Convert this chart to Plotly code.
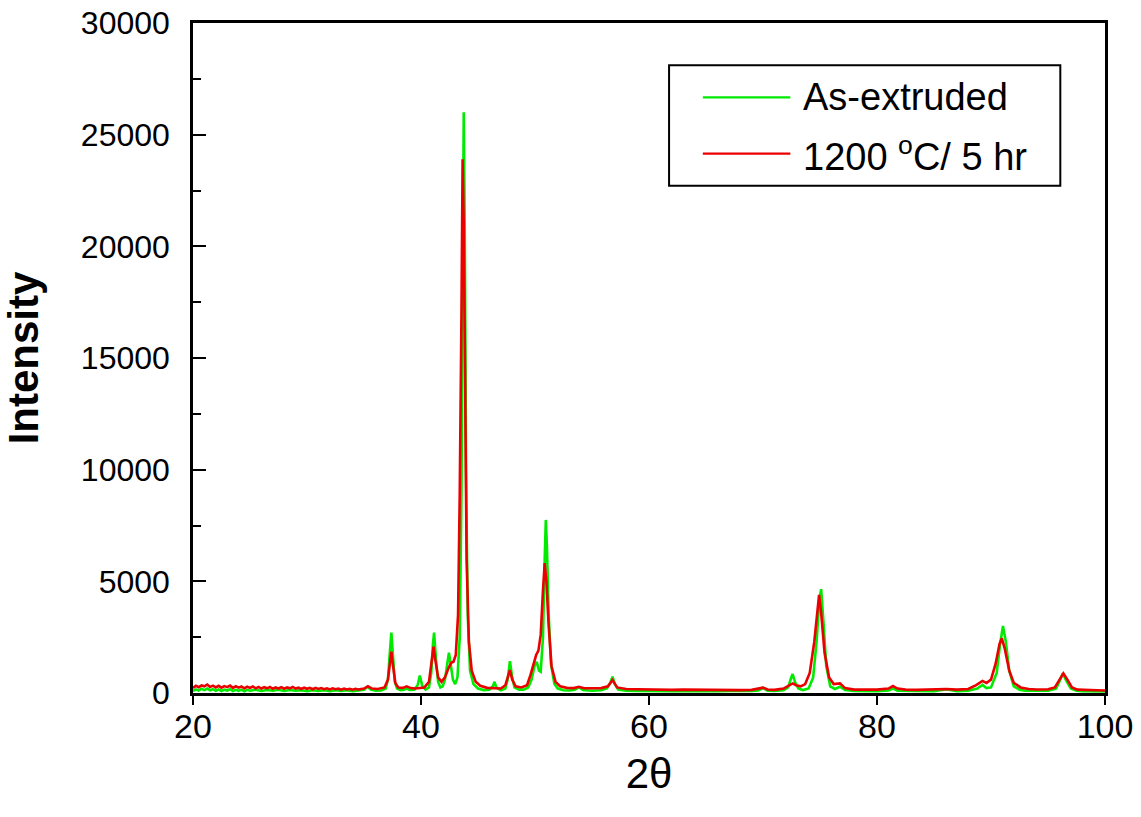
import plotly.graph_objects as go

# ---- data ----
tth_asx = [20.0, 20.25, 20.5, 20.75, 21.0, 21.25, 21.5, 21.75, 22.0, 22.25, 22.5, 22.75, 23.0, 23.25, 23.5, 23.75,
           24.0, 24.25, 24.5, 24.75, 25.0, 25.5, 26.0, 26.5, 27.0, 27.5, 28.0, 28.5, 29.0, 29.5, 30.0, 30.5,
           31.0, 31.5, 32.0, 32.5, 33.0, 33.5, 34.0, 34.5, 35.0, 35.3,
           35.6, 36.0, 36.5, 36.9, 37.1, 37.25, 37.4, 37.55, 37.7, 37.9, 38.2, 38.5, 38.75, 39.0, 39.4, 39.7,
           39.9, 40.1, 40.4, 40.7, 40.9, 41.05, 41.15, 41.3, 41.5, 41.7, 41.9, 42.1, 42.3, 42.45, 42.6, 42.8,
           43.0, 43.2, 43.4, 43.55, 43.65, 43.75, 43.85, 43.95, 44.1, 44.3, 44.6, 45.0, 45.5, 46.0, 46.3, 46.45,
           46.6, 47.0, 47.4, 47.6, 47.8, 48.0, 48.2, 48.6, 49.0, 49.4, 49.7, 49.95, 50.15, 50.35, 50.5, 50.7,
           50.85, 50.95, 51.05, 51.2, 51.4, 51.7, 52.0, 52.5, 53.0, 53.5, 53.85, 54.2, 55.0, 55.8, 56.3, 56.6,
           56.8, 57.0, 57.3, 58.0, 59.0, 60.0, 61.0, 62.0, 63.0, 64.0, 65.0, 66.0, 67.0, 68.0, 69.0, 69.6,
           70.0, 70.4, 71.0, 71.8, 72.2, 72.45, 72.6, 72.8, 73.1, 73.5, 74.0, 74.4, 74.7, 74.95, 75.1, 75.3,
           75.55, 75.9, 76.3, 76.75, 77.2, 78.0, 79.0, 80.0, 81.0, 81.4, 81.8, 83.0, 84.0, 85.0, 86.1, 87.0,
           88.0, 88.8, 89.25, 89.6, 90.0, 90.5, 90.8, 91.05, 91.3, 91.6, 92.0, 92.5, 93.0, 94.0, 95.0, 95.7,
           96.0, 96.3, 96.6, 97.0, 97.5, 98.0, 99.0, 100.0]
int_asx = [90, 160, 110, 190, 130, 200, 120, 170, 100, 160, 90, 150, 110, 170, 90, 140,
           100, 150, 80, 140, 100, 150, 90, 140, 100, 150, 90, 140, 100, 130, 80, 130,
           90, 120, 80, 120, 90, 120, 80, 110, 150, 280,
           150, 100, 110, 200, 600, 1700, 2700, 1600, 500, 200, 130, 150, 200, 140, 150, 350,
           780, 330, 150, 250, 900, 2200, 2700, 1600, 500, 250, 300, 600, 1300, 1800, 1300, 600,
           400, 700, 2500, 9000, 18000, 26000, 20000, 10000, 3500, 1000, 400, 200, 130, 150, 300, 500,
           250, 120, 200, 600, 1430, 700, 250, 150, 150, 250, 600, 1200, 1400, 1000, 950, 2500,
           6000, 7750, 6500, 3500, 1300, 400, 200, 120, 110, 150, 260, 130, 100, 120, 200, 450,
           730, 400, 150, 100, 90, 80, 100, 80, 90, 80, 90, 80, 90, 80, 90, 110,
           230, 100, 90, 120, 250, 650, 850, 500, 200, 130, 200, 700, 2300, 4200, 4650, 3200,
           1200, 300, 180, 280, 130, 90, 80, 80, 110, 200, 100, 80, 90, 80, 170, 80,
           100, 200, 360, 220, 250, 900, 2200, 3000, 2300, 1000, 300, 150, 100, 90, 100, 200,
           500, 880, 550, 200, 100, 80, 80, 70]

tth_ann = [20.0, 20.25, 20.5, 20.75, 21.0, 21.25, 21.5, 21.75, 22.0, 22.25,
           22.5, 22.75, 23.0, 23.25, 23.5, 23.75, 24.0, 24.25, 24.5, 24.75,
           25.0, 25.25, 25.5, 25.75, 26.0, 26.25, 26.5, 26.75, 27.0, 27.25,
           27.5, 27.75, 28.0, 28.25, 28.5, 28.75, 29.0, 29.25, 29.5, 29.75,
           30.0, 30.25, 30.5, 30.75, 31.0, 31.25, 31.5, 31.75, 32.0, 32.25,
           32.5, 32.75, 33.0, 33.25, 33.5, 33.75, 34.0, 34.25, 34.5, 34.75,
           35.0, 35.35, 35.7, 36.2, 36.8, 37.1, 37.25, 37.4, 37.55, 37.75, 38.0, 38.4, 38.75,
           39.1, 39.5, 39.9, 40.3, 40.7, 40.95, 41.1, 41.25, 41.5, 41.8, 42.1, 42.4, 42.65, 42.85, 43.05, 43.25,
           43.4, 43.55, 43.65, 43.75, 43.85, 44.0, 44.2, 44.45, 44.8, 45.2, 45.8, 46.4, 47.0, 47.4, 47.6, 47.8,
           48.0, 48.3, 48.8, 49.3, 49.6, 49.9, 50.1, 50.3, 50.5, 50.7, 50.85, 51.0, 51.2, 51.45, 51.8, 52.2,
           52.8, 53.4, 53.85, 54.3, 55.0, 55.8, 56.4, 56.8, 57.2, 58.0, 59.0, 60.0, 61.0, 62.0, 63.0, 64.0,
           65.0, 66.0, 67.0, 68.0, 69.0, 69.6, 70.0, 70.4, 71.0, 71.8, 72.3, 72.6, 72.9, 73.3, 73.7, 74.1,
           74.5, 74.8, 74.92, 75.1, 75.4, 75.8, 76.2, 76.75, 77.2, 78.0, 79.0, 80.0, 81.0, 81.4, 81.8, 82.5,
           83.5, 84.5, 85.5, 86.1, 87.0, 88.0, 88.7, 89.25, 89.6, 90.0, 90.4, 90.75, 90.95, 91.2, 91.6, 92.0,
           92.6, 93.3, 94.0, 95.0, 95.6, 96.0, 96.35, 96.7, 97.1, 97.6, 98.5, 99.3, 100.0]
int_ann = [230, 320, 260, 340, 300, 380, 270, 330, 250, 320,
           240, 310, 260, 330, 230, 300, 240, 290, 210, 280,
           230, 290, 210, 270, 200, 260, 210, 270, 190, 250,
           200, 260, 190, 250, 210, 270, 200, 240, 180, 240,
           190, 230, 170, 230, 180, 220, 170, 210, 160, 210,
           170, 200, 150, 200, 160, 190, 150, 190, 160, 190,
           200, 300, 200, 180, 250, 600, 1300, 1850, 1200, 450, 250, 230, 300,
           220, 200, 230, 250, 500, 1400, 2070, 1500, 700, 500, 700, 1100, 1350, 1400, 1700, 3500,
           9000, 17000, 23900, 21000, 13000, 6000, 2300, 1000, 500, 320, 230, 220, 200, 350, 700, 1030,
           600, 300, 250, 350, 800, 1400, 1700, 1900, 2600, 4600, 5820, 5000, 3000, 1200, 500, 300,
           230, 220, 280, 210, 200, 220, 300, 580, 250, 180, 170, 150, 160, 140, 150, 140,
           150, 130, 140, 130, 140, 180, 240, 160, 140, 200, 350, 430, 350, 300, 400, 900,
           2300, 4000, 4390, 3600, 1800, 700, 400, 430, 220, 150, 140, 150, 200, 310, 200, 150,
           140, 150, 160, 180, 150, 180, 350, 540, 450, 600, 1300, 2200, 2450, 2000, 1000, 450,
           250, 180, 160, 170, 250, 600, 880, 600, 250, 150, 120, 120, 110]

x_ticks = [20, 40, 60, 80, 100]
y_ticks = [0, 5000, 10000, 15000, 20000, 25000, 30000]
legend_names = ["As-extruded", "1200 <sup>o</sup>C/ 5 hr"]

assert len(tth_asx) == len(int_asx) and len(tth_ann) == len(int_ann)

FONT = "Arial, Liberation Sans, sans-serif"
GREEN = "rgb(0,235,0)"
RED = "rgb(235,0,0)"

fig = go.Figure()
fig.add_trace(go.Scatter(x=tth_asx, y=int_asx, mode="lines", line=dict(color=GREEN, width=2.6),
                         name=legend_names[0], showlegend=False))
fig.add_trace(go.Scatter(x=tth_ann, y=int_ann, mode="lines", line=dict(color=RED, width=2.6),
                         name=legend_names[1], showlegend=False))

# manual legend box
fig.add_shape(type="rect", xref="paper", yref="paper", x0=0.522, x1=0.951, y0=0.757, y1=0.937,
              line=dict(color="black", width=2), fillcolor="white", layer="above")
for i, (col, yp) in enumerate([(GREEN, 0.889), (RED, 0.805)]):
    fig.add_shape(type="line", xref="paper", yref="paper", x0=0.559, x1=0.655, y0=yp, y1=yp,
                  line=dict(color=col, width=2.2), layer="above")
    fig.add_annotation(xref="paper", yref="paper", x=0.667, y=yp, text=legend_names[i],
                       showarrow=False, xanchor="left", yanchor="middle",
                       font=dict(family=FONT, size=38, color="black"))

fig.update_layout(
    width=1141, height=817,
    margin=dict(l=193, r=36, t=23, b=124),
    paper_bgcolor="white", plot_bgcolor="white",
    showlegend=False,
    font=dict(family=FONT, color="black"),
)
fig.update_xaxes(range=[20, 100], tickvals=x_ticks, ticktext=[str(v) for v in x_ticks],
                 ticks="outside", ticklen=9, tickwidth=2, tickcolor="black",
                 showline=True, linecolor="black", linewidth=2.5, mirror=True,
                 showgrid=False, zeroline=False, automargin=False,
                 tickfont=dict(family=FONT, size=34), ticklabelstandoff=-8,
                 title=dict(text="2θ", font=dict(family=FONT, size=42), standoff=16))
fig.update_yaxes(range=[0, 30000], tickvals=y_ticks, ticktext=[str(v) for v in y_ticks],
                 ticks="inside", ticklen=13, tickwidth=2, tickcolor="black",
                 minor=dict(dtick=2500, ticks="inside", ticklen=8, tickwidth=2, tickcolor="black"),
                 showline=True, linecolor="black", linewidth=2.5, mirror=True,
                 showgrid=False, zeroline=False, automargin=False,
                 tickfont=dict(family=FONT, size=32), ticklabelstandoff=14,
                 title=dict(text="<b>Intensity</b>", font=dict(family=FONT, size=42), standoff=30))

fig.write_html("out.html")
